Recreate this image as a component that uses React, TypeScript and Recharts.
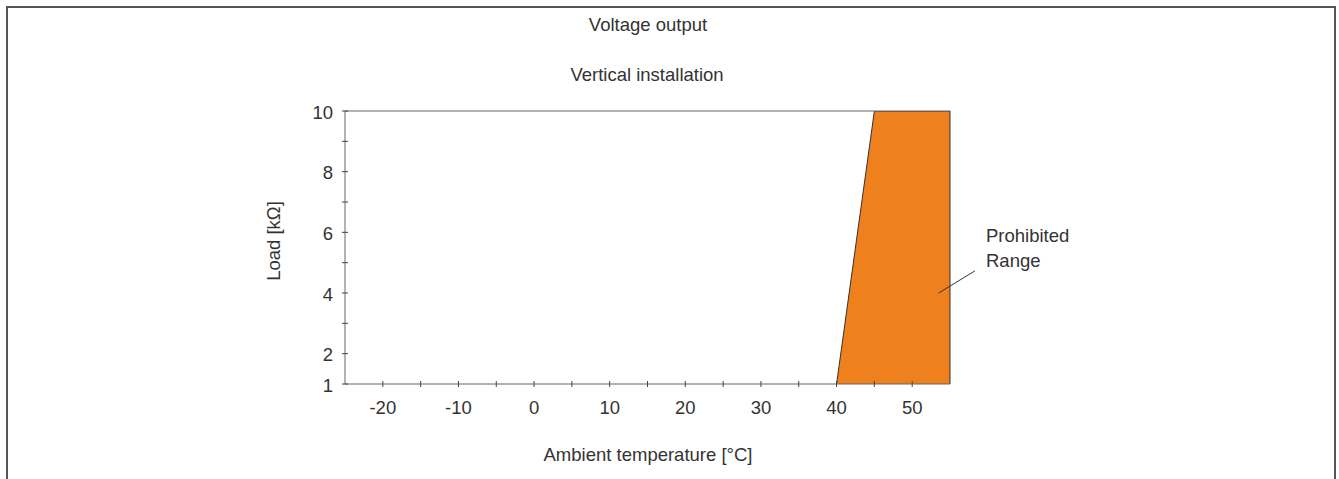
import React from 'react';
import {
  ComposedChart,
  Area,
  XAxis,
  YAxis,
  ReferenceLine,
} from 'recharts';

// Boundary of the prohibited range (temperature vs. load)
const temps = [40, 45, 55];
const loads = [1, 10, 10];

const xTicks = [-20, -15, -10, -5, 0, 5, 10, 15, 20, 25, 30, 35, 40, 45, 50];
const xLabels = [-20, -10, 0, 10, 20, 30, 40, 50];
const yTicks = [1, 2, 3, 4, 5, 6, 7, 8, 9, 10];
const yLabels = [1, 2, 4, 6, 8, 10];

const title = 'Voltage output';
const subtitle = 'Vertical installation';
const xTitle = 'Ambient temperature [°C]';
const yTitle = 'Load [kΩ]';
const noteLines = ['Prohibited', 'Range'];

const FONT = '"Liberation Sans", Arial, sans-serif';
const FS = 18.5;
const TEXT = '#333';
const ORANGE = '#EE801D';

const data = temps.map((t, i) => ({ temp: t, load: loads[i] }));

const XTick = (props: any) => {
  const { x, y, payload } = props;
  const v = payload.value;
  return (
    <g>
      <line x1={x} x2={x} y1={y - 3} y2={y + 3} stroke="#444" />
      {xLabels.includes(v) && (
        <text x={x} y={y + 23} textAnchor="middle" dominantBaseline="central"
          fontFamily={FONT} fontSize={FS} fill={TEXT}>
          {v}
        </text>
      )}
    </g>
  );
};

const YTick = (props: any) => {
  const { x, y, payload } = props;
  const v = payload.value;
  return (
    <g>
      <line x1={x - 3} x2={x + 3} y1={y} y2={y} stroke="#444" />
      {yLabels.includes(v) && (
        <text x={x - 12} y={y + 1} textAnchor="end" dominantBaseline="central"
          fontFamily={FONT} fontSize={FS} fill={TEXT}>
          {v}
        </text>
      )}
    </g>
  );
};

const label = (left: number, top: number, extra: any = {}): React.CSSProperties => ({
  position: 'absolute',
  left,
  top,
  transform: 'translate(-50%, -50%)',
  whiteSpace: 'nowrap',
  fontFamily: FONT,
  fontSize: FS,
  color: TEXT,
  ...extra,
});

export default function App() {
  return (
    <div style={{ position: 'absolute', left: 0, top: 0, width: 1339, height: 479, background: '#fff', overflow: 'hidden' }}>
      <div style={{ position: 'absolute', left: 6, top: 6, width: 1330, height: 600, border: '2px solid #555', boxSizing: 'border-box' }} />

      <ComposedChart
        width={1339}
        height={479}
        data={data}
        margin={{ top: 111, right: 389, bottom: 0, left: 0 }}
        style={{ position: 'absolute', left: 0, top: 0 }}
      >
        <XAxis
          type="number"
          dataKey="temp"
          domain={[-25, 55]}
          ticks={xTicks}
          interval={0}
          height={95}
          tickSize={0}
          tickMargin={0}
          tick={<XTick />}
          axisLine={{ stroke: '#666' }}
          allowDataOverflow
        />
        <YAxis
          type="number"
          dataKey="load"
          domain={[1, 10]}
          ticks={yTicks}
          interval={0}
          width={345}
          tickSize={0}
          tickMargin={0}
          tick={<YTick />}
          axisLine={{ stroke: '#666' }}
          allowDataOverflow
        />
        <ReferenceLine y={10} stroke="#666" />
        <Area
          type="linear"
          dataKey="load"
          baseValue={1}
          fill={ORANGE}
          fillOpacity={1}
          stroke="#333"
          strokeWidth={1}
          dot={false}
          activeDot={false}
          isAnimationActive={false}
        />
        <ReferenceLine x={55} stroke="#333" />
        <ReferenceLine
          segment={[{ x: 53.5, y: 4.0 }, { x: 58.3, y: 4.73 }]}
          stroke="#333"
          ifOverflow="visible"
        />
      </ComposedChart>

      <div style={label(648, 25)}>{title}</div>
      <div style={label(647, 75)}>{subtitle}</div>
      <div style={label(648, 455)}>{xTitle}</div>
      <div style={label(274, 241, { transform: 'translate(-50%, -50%) rotate(-90deg)' })}>{yTitle}</div>
      <div style={{ position: 'absolute', left: 986, top: 223, fontFamily: FONT, fontSize: FS, color: TEXT, lineHeight: '25px' }}>
        {noteLines.map((l) => (
          <div key={l}>{l}</div>
        ))}
      </div>
    </div>
  );
}
